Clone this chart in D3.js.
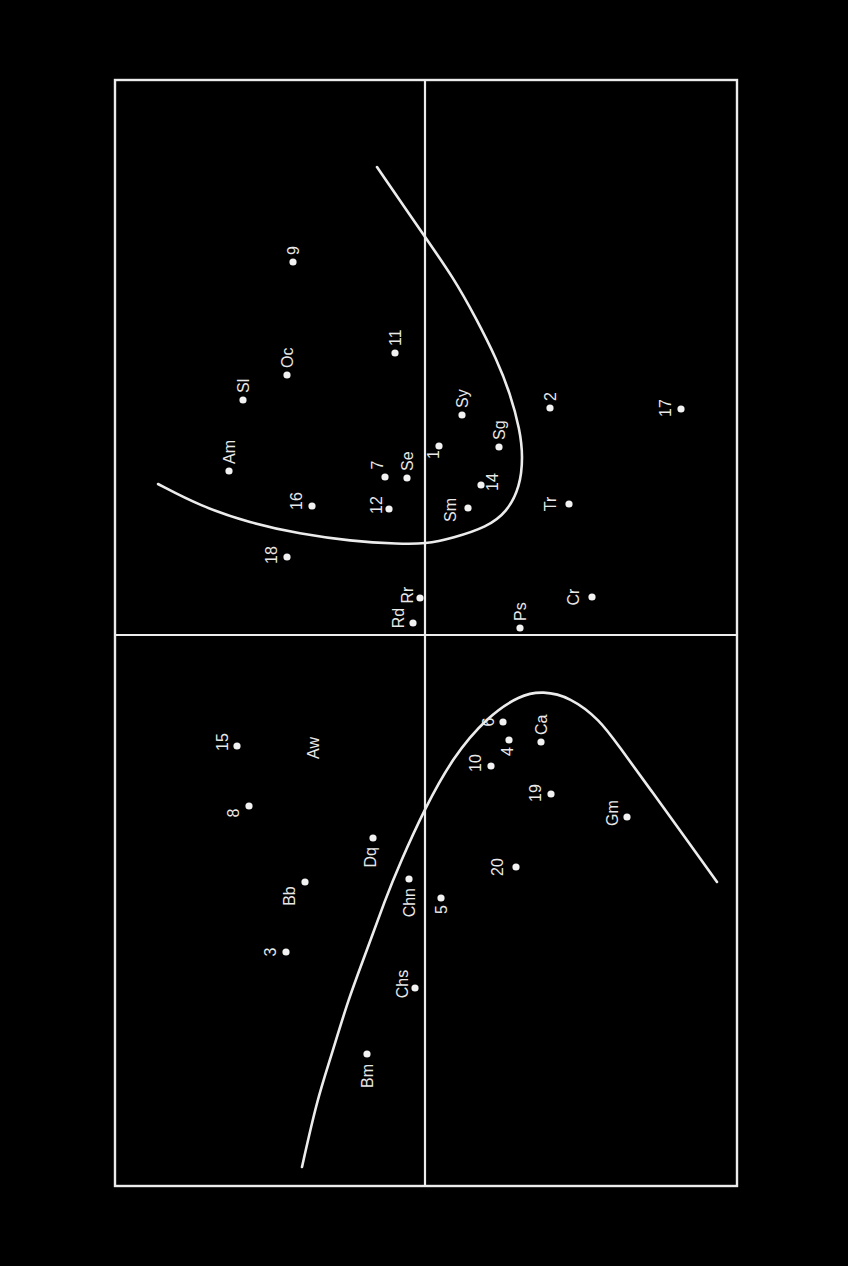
<!DOCTYPE html>
<html>
<head>
<meta charset="utf-8">
<script src="https://cdn.jsdelivr.net/npm/d3@7"></script>
<style>
  html, body { margin: 0; padding: 0; background: #000; }
  svg { display: block; }
</style>
</head>
<body>
<script>
// Ordination scores (axis 1, axis 2) for sites (numbers) and species (codes)
const labels = ["Oc","Sl","Am","16","18","7","Se","12","Rr","Rd","11","9","Sy","Sg","1","14","Sm","2","17","Tr","Cr","Ps",
                "15","Aw","8","Dq","Bb","Chn","6","4","Ca","10","19","Gm","20","5","3","Chs","Bm"];
const axis1 = [1.30,1.175,0.82,0.645,0.39,0.79,0.785,0.63,0.185,0.06,1.41,1.865,1.10,0.94,0.945,0.75,0.635,1.135,1.13,0.655,0.19,0.035,
               -0.555,-0.565,-0.855,-1.015,-1.235,-1.22,-0.435,-0.525,-0.535,-0.655,-0.795,-0.91,-1.16,-1.315,-1.585,-1.765,-2.095];
const axis2 = [0.69,0.91,0.98,0.565,0.69,0.20,0.09,0.18,0.025,0.06,0.15,0.66,-0.185,-0.37,-0.07,-0.28,-0.215,-0.625,-1.28,-0.72,-0.835,-0.475,
               0.94,0.56,0.88,0.26,0.60,0.08,-0.39,-0.42,-0.58,-0.33,-0.63,-1.01,-0.455,-0.08,0.695,0.05,0.29];
// Labels drawn without a point marker
const unmarked = ["Aw"];

// Label placement relative to its point: side, shift along axis 1, shift along axis 2 (px)
const labelPlace = [["r"],["r"],["r"],["t",5],["t",2],["t",12,8],["r"],["t",4,3],["t",3,3],["t",5,1],["r"],["r"],["r"],["r"],["l",3,-6],["b",3,-1],["t",-2,-2],["r"],["t",1],["t",0,-3],["t",0,-3],["r"],
                    ["t",4,1],["c"],["t",-7],["l",-2,-3],["t",-14],["l",-2],["t",0,1],["l",0,-2],["r"],["t",3],["t",1],["t",4,1],["t",0,-3],["l"],["t",0],["t",4,3],["l",-3]];

// Fitted response curves (axis 1, axis 2)
const upperCurve1 = [0.755,0.645,0.56,0.505,0.47,0.455,0.455,0.485,0.54,0.615,0.74,0.89,1.025,1.21,1.375,1.585,1.79,1.99,2.34];
const upperCurve2 = [1.335,1.125,0.875,0.625,0.375,0.125,0,-0.14,-0.31,-0.41,-0.475,-0.49,-0.475,-0.425,-0.36,-0.255,-0.14,0,0.24];
const lowerCurve1 = [-2.66,-2.325,-2.11,-1.825,-1.575,-1.325,-1.14,-0.865,-0.61,-0.41,-0.30,-0.28,-0.31,-0.425,-0.55,-0.79,-1.025,-1.235];
const lowerCurve2 = [0.615,0.54,0.47,0.385,0.29,0.20,0.125,0,-0.14,-0.31,-0.475,-0.59,-0.725,-0.875,-0.965,-1.14,-1.31,-1.46];

const width = 848, height = 1266;
const frame = { left: 115, top: 80, right: 737, bottom: 1186 };
// The plot is laid on its side: axis 1 runs up the page, axis 2 runs right-to-left.
const plotW = frame.bottom - frame.top;
const plotH = frame.right - frame.left;

const x = d3.scaleLinear().domain([-2.755, 2.775]).range([0, plotW]);
const y = d3.scaleLinear().domain([1.55, -1.56]).range([0, plotH]);

const ink = "#ececec";

const svg = d3.select("body").append("svg")
  .attr("width", width).attr("height", height)
  .style("background", "#000");

const g = svg.append("g")
  .attr("transform", `translate(${frame.left},${frame.bottom}) rotate(-90)`);

// Frame
g.append("rect")
  .attr("x", 0).attr("y", 0).attr("width", plotW).attr("height", plotH)
  .attr("fill", "none").attr("stroke", ink).attr("stroke-width", 2.4);

// Zero lines
g.append("line")
  .attr("x1", x(0)).attr("x2", x(0)).attr("y1", 0).attr("y2", plotH)
  .attr("stroke", ink).attr("stroke-width", 2.2);
g.append("line")
  .attr("x1", 0).attr("x2", plotW).attr("y1", y(0)).attr("y2", y(0))
  .attr("stroke", ink).attr("stroke-width", 2.2);

// Curves
const line = d3.line()
  .x(d => x(d[0])).y(d => y(d[1]))
  .curve(d3.curveBasis);

[[upperCurve1, upperCurve2], [lowerCurve1, lowerCurve2]].forEach(([c1, c2]) => {
  g.append("path")
    .datum(c1.map((v, i) => [v, c2[i]]))
    .attr("d", line)
    .attr("fill", "none")
    .attr("stroke", ink)
    .attr("stroke-width", 2.6)
    .attr("stroke-linecap", "round");
});

// Points and labels
const pts = labels.map((name, i) => ({
  name, a1: axis1[i], a2: axis2[i], place: labelPlace[i]
}));

g.selectAll("circle.pt")
  .data(pts.filter(d => !unmarked.includes(d.name)))
  .join("circle")
  .attr("class", "pt")
  .attr("cx", d => x(d.a1))
  .attr("cy", d => y(d.a2))
  .attr("r", 3.6)
  .attr("fill", "#f2f2f2");

function labelAttrs(p) {
  const side = p[0], along = p[1] || 0, across = p[2] || 0;
  switch (side) {
    case "r": return { anchor: "start", dx: 7 + along, dy: across };
    case "l": return { anchor: "end", dx: -7 + along, dy: across };
    case "t": return { anchor: "middle", dx: along, dy: -16 + across };
    case "b": return { anchor: "middle", dx: along, dy: 12 + across };
    default:  return { anchor: "middle", dx: along, dy: across };
  }
}

g.selectAll("text.lbl")
  .data(pts)
  .join("text")
  .attr("class", "lbl")
  .each(function(d) {
    const a = labelAttrs(d.place);
    d3.select(this)
      .attr("x", x(d.a1) + a.dx)
      .attr("y", y(d.a2) + a.dy)
      .attr("text-anchor", a.anchor);
  })
  .attr("dominant-baseline", "central")
  .attr("font-family", "'Liberation Sans', Arial, Helvetica, sans-serif")
  .attr("font-size", 16)
  .attr("fill", "#e8e8e8")
  .text(d => d.name);
</script>
</body>
</html>
